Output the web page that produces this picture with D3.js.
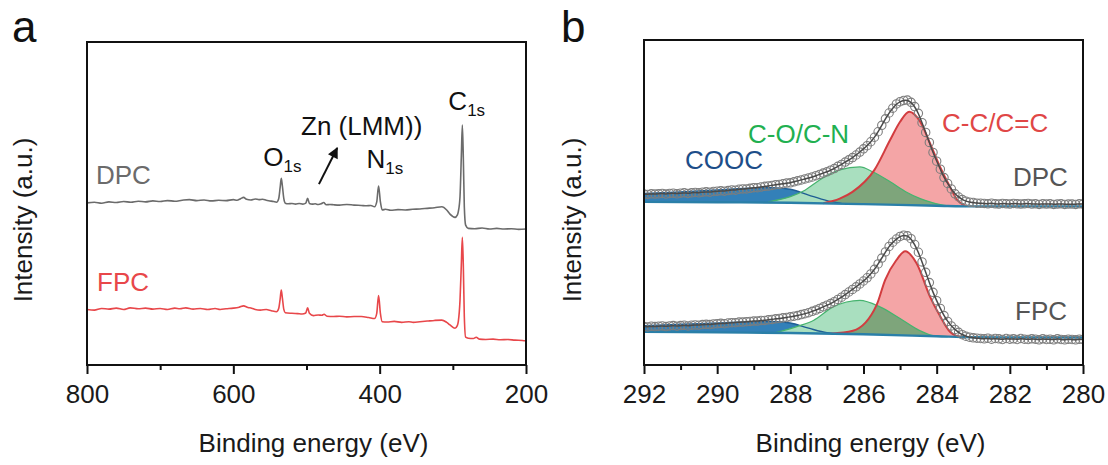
<!DOCTYPE html>
<html>
<head>
<meta charset="utf-8">
<script src="https://cdn.jsdelivr.net/npm/d3@7"></script>
<style>
  html, body { margin: 0; padding: 0; background: #fff; }
  svg { display: block; }
</style>
</head>
<body>
<svg id="chart" width="1108" height="465"></svg>
<script>
// ---------- (a) XPS survey spectra: [binding energy (eV), intensity (a.u.)] ----------
const surveyDPC = [
  [800,50.2],[790,50.4],[780,50.1],[770,50.5],[760,50.3],[750,50.6],[740,50.4],[730,50.7],
  [720,50.5],[710,50.8],[700,50.6],[690,50.9],[680,50.7],[670,51.0],[660,51.2],[650,50.9],
  [640,51.1],[630,50.8],[620,51.0],[610,50.9],[600,51.2],[595,51.0],[590,51.5],[586,51.9],
  [582,51.3],[576,51.1],[570,51.4],[565,51.2],[560,51.3],[555,51.0],[550,50.8],[545,50.6],
  [541,50.4],[538,51.5],[536,55.0],[534.5,57.8],[533,55.5],[531,51.5],[529,50.1],[525,49.9],
  [520,50.0],[515,49.8],[510,50.0],[505,49.8],[501,50.1],[498.5,51.6],[496,50.0],[492,49.8],
  [488,49.9],[484,49.7],[480,49.9],[476.5,50.3],[473,49.6],[468,49.7],[463,49.6],[455,49.5],
  [445,49.7],[435,49.5],[425,49.4],[418,49.3],[412,49.4],[407,49.0],[404,50.5],[401.5,55.4],
  [399,50.5],[396.5,48.0],[392,48.2],[385,47.9],[375,48.1],[365,48.0],[355,48.2],[345,48.3],
  [335,48.5],[325,48.7],[315,49.0],[308.4,48.0],[303.9,46.7],[297,45.7],[293.9,46.4],[292.5,47.5],
  [290.2,52.1],[288.4,64.5],[287,74.3],[285.7,64.5],[284.3,49.0],[282.5,43.3],[278.9,42.3],
  [270,42.2],[260,42.4],[250,42.1],[240,42.3],[230,42.1],[220,42.2],[210,42.0],[200,42.1]
];
const surveyFPC = [
  [800,17.2],[790,17.0],[780,17.5],[770,17.3],[760,17.6],[750,17.2],[741,17.7],[730,17.4],
  [720,17.6],[710,17.3],[700,17.5],[690,17.2],[680,17.6],[673,17.4],[665,17.7],[655,17.3],
  [645,17.5],[635,17.2],[625,17.5],[618,17.2],[610,17.4],[600,17.6],[592,17.9],[586,18.3],
  [580,17.8],[575,17.6],[570,17.2],[563,17.0],[555,17.2],[548,16.8],[541,16.5],[538,17.5],
  [536,20.5],[534.5,23.2],[533,20.8],[531,17.2],[529,16.2],[520,16.0],[512,15.9],[506,15.8],
  [501,16.1],[498.5,17.7],[496,16.0],[490.6,15.3],[484,15.5],[479,15.4],[476,15.7],[472,15.1],
  [463,15.0],[455,15.1],[445,14.9],[435,15.0],[425,15.0],[415,14.7],[407,14.4],[404,16.0],
  [401.5,21.5],[399,16.0],[396.5,13.4],[390,13.3],[380,13.5],[370,13.2],[360,13.4],[354,13.2],
  [345,13.4],[335,13.6],[325,13.8],[315,13.9],[308.4,13.2],[303.9,12.4],[297,11.4],[293.9,12.2],
  [292.5,13.5],[290.2,20.0],[288.4,31.0],[287,39.5],[285.7,31.0],[284.3,15.0],[282.5,8.6],
  [278.9,8.3],[272,8.2],[268,8.6],[264,8.0],[255,7.9],[245,8.0],[235,7.8],[225,7.9],[215,7.7],
  [205,7.6],[200,7.5]
];
const surveyTicks = [800, 600, 400, 200];
const surveyMinorTicks = [700, 500, 300];

// ---------- (b) C 1s high-resolution spectra ----------
// measured intensities, one every 0.1 eV from 292.0 eV down to 280.0 eV
const hiresStart = 292.0, hiresStep = 0.1;
const c1sDPC = [
  52.9,52.8,53.0,52.9,53.0,53.1,52.9,53.1,53.2,53.0,
  53.2,53.3,53.1,53.3,53.4,53.3,53.5,53.6,53.5,53.7,
  53.8,53.9,53.8,54.0,54.2,54.1,54.4,54.5,54.5,54.7,
  54.9,54.9,55.1,55.3,55.4,55.6,55.8,55.9,56.1,56.3,
  56.4,56.7,57.0,57.3,57.6,57.9,58.2,58.6,59.0,59.4,
  59.8,60.3,60.8,61.5,62.1,62.8,63.5,64.2,65.0,65.9,
  66.9,67.9,69.1,70.5,72.2,74.2,76.2,78.0,79.5,80.8,
  81.5,81.9,82.0,81.3,80.0,77.9,75.0,72.0,68.9,65.8,
  63.1,60.6,58.0,56.2,54.5,53.0,52.0,51.2,50.7,50.4,
  50.3,50.1,50.1,50.0,49.9,50.1,49.9,49.8,50.0,49.9,
  49.8,50.0,49.9,49.8,49.9,50.0,49.8,49.9,49.7,49.9,
  49.8,49.9,49.7,49.8,49.9,49.7,49.8,49.8,49.7,49.9,
  49.8
];
const c1sFPC = [
  11.9,11.8,12.0,11.9,12.0,12.1,11.9,12.1,12.2,12.0,
  12.2,12.3,12.1,12.3,12.4,12.3,12.5,12.6,12.5,12.7,
  12.8,12.9,12.8,13.0,13.1,13.1,13.3,13.3,13.4,13.5,
  13.6,13.6,13.8,13.8,14.0,14.1,14.3,14.4,14.6,14.7,
  14.9,15.1,15.3,15.6,15.9,16.2,16.6,17.0,17.5,18.0,
  18.5,19.0,19.6,20.3,21.0,21.8,22.6,23.4,24.2,25.1,
  26.0,27.0,28.2,29.6,31.3,33.1,35.0,36.7,38.0,39.0,
  39.8,40.2,40.0,39.1,37.3,34.9,31.9,28.7,25.5,22.5,
  19.9,17.5,15.3,13.5,12.1,11.0,10.1,9.4,8.9,8.6,
  8.4,8.3,8.2,8.1,8.3,8.0,8.2,8.1,7.9,8.2,
  8.0,8.1,7.9,8.2,8.0,7.9,8.1,8.0,7.8,8.1,
  7.9,8.0,7.8,8.1,7.9,7.8,8.0,7.9,7.8,8.0,
  7.9
];

// fitted background and components, [binding energy (eV), intensity]
const baseDPC = [[292,50.5],[290,50.4],[288,50.2],[286,49.8],[284,49.3],[283,49.1],[280,49.1]];
const coocDPC = [[292,53.1],[291,53.6],[290,54.2],[289,54.8],[288.5,54.9],[288,54.4],[287.5,52.6],[287,50.9],[286.6,50.0]];
const coDPC   = [[288.6,50.5],[288.0,52.1],[287.6,54.1],[287.2,57.3],[286.65,60.4],[286.1,61.3],[285.75,59.8],[285.27,56.7],[284.82,53.5],[284.45,51.5],[284.1,50.2],[283.7,49.25]];
const ccDPC   = [[287.1,50.1],[286.65,51.5],[286.3,53.6],[285.7,60.4],[285.27,69.7],[285.0,75.3],[284.75,78.4],[284.45,75.3],[284.18,68.6],[283.91,61.4],[283.63,55.0],[283.45,51.3],[283.2,49.15]];

const baseFPC = [[292,10.3],[290,10.1],[288,9.9],[286,9.5],[284,8.9],[283,8.6],[280,8.5]];
const coocFPC = [[292,12.2],[291,12.6],[290,13.0],[289,13.4],[288.5,13.5],[288,13.0],[287.5,11.4],[287,10.0],[286.6,9.65]];
const coFPC   = [[288.4,10.0],[287.74,12.2],[287.37,13.8],[286.83,18.0],[286.1,20.0],[285.55,18.0],[285.0,14.4],[284.45,10.6],[284.1,9.1],[283.7,8.8]];
const ccFPC   = [[286.9,9.7],[286.29,10.6],[285.64,18.6],[285.41,26.3],[285.1,32.5],[284.86,35.2],[284.55,31.5],[284.18,21.1],[283.9,15.0],[283.63,10.2],[283.45,9.0],[283.2,8.65]];

const c1sTicks = [292, 290, 288, 286, 284, 282, 280];
const c1sMinorTicks = [291, 289, 287, 285, 283, 281];

// ---------- layout ----------
const FONT = '"Liberation Sans", Arial, Helvetica, sans-serif';
const boxA = { left: 87, right: 526, top: 42, bottom: 365 };
const boxB = { left: 644, right: 1083, top: 40, bottom: 365 };

const svg = d3.select('#chart').attr('font-family', FONT);
const defs = svg.append('defs');

const xA = d3.scaleLinear().domain([800, 200]).range([boxA.left, boxA.right]);
const yA = d3.scaleLinear().domain([0, 100]).range([boxA.bottom, boxA.top]);
const xB = d3.scaleLinear().domain([292, 280]).range([boxB.left, boxB.right]);
const yB = d3.scaleLinear().domain([0, 100.6]).range([boxB.bottom, boxB.top]);

function addClip(id, box) {
  defs.append('clipPath').attr('id', id)
    .append('rect')
    .attr('x', box.left).attr('y', box.top)
    .attr('width', box.right - box.left).attr('height', box.bottom - box.top);
}
addClip('clipA', boxA);
addClip('clipB', boxB);

function drawAxes(x, box, major, minor, yTitleX) {
  const g = svg.append('g');
  const big = g.append('g').attr('transform', `translate(0,${box.bottom})`)
    .call(d3.axisBottom(x).tickValues(major).tickSize(9).tickPadding(11).tickFormat(d3.format('d')));
  const small = g.append('g').attr('transform', `translate(0,${box.bottom})`)
    .call(d3.axisBottom(x).tickValues(minor).tickSize(5).tickFormat(''));
  [big, small].forEach(s => {
    s.select('.domain').remove();
    s.selectAll('line').attr('stroke', '#111').attr('stroke-width', 2);
    s.selectAll('text').attr('font-size', 26).attr('font-family', FONT).attr('fill', '#1a1a1a');
  });
  // frame
  g.append('rect')
    .attr('x', box.left).attr('y', box.top)
    .attr('width', box.right - box.left).attr('height', box.bottom - box.top)
    .attr('fill', 'none').attr('stroke', '#111').attr('stroke-width', 2);
  // axis titles
  g.append('text')
    .attr('x', (box.left + box.right) / 2 + 7).attr('y', 452)
    .attr('text-anchor', 'middle').attr('font-size', 26).attr('fill', '#1a1a1a')
    .text('Binding energy (eV)');
  g.append('text')
    .attr('transform', `translate(${yTitleX},220) rotate(-90)`)
    .attr('text-anchor', 'middle').attr('font-size', 26).attr('fill', '#1a1a1a')
    .text('Intensity (a.u.)');
}

// ---------- panel a ----------
const line = d3.line().x(d => xA(d[0])).y(d => yA(d[1])).curve(d3.curveMonotoneX);
const gA = svg.append('g').attr('clip-path', 'url(#clipA)');
gA.append('path').attr('d', line(surveyDPC))
  .attr('fill', 'none').attr('stroke', '#6b6b6b').attr('stroke-width', 1.6);
gA.append('path').attr('d', line(surveyFPC))
  .attr('fill', 'none').attr('stroke', '#e8474a').attr('stroke-width', 1.6);

drawAxes(xA, boxA, surveyTicks, surveyMinorTicks, 32);

svg.append('text').attr('x', 12).attr('y', 42).attr('font-size', 44).attr('fill', '#111').text('a');

svg.append('text').attr('x', boxA.left + 9).attr('y', 184)
  .attr('font-size', 26).attr('fill', '#6b6b6b').text('DPC');
svg.append('text').attr('x', boxA.left + 10).attr('y', 291)
  .attr('font-size', 26).attr('fill', '#e8474a').text('FPC');

function peakLabel(sym, sub, x, y) {
  const t = svg.append('text').attr('x', x).attr('y', y).attr('font-size', 26).attr('fill', '#111');
  t.append('tspan').text(sym);
  t.append('tspan').attr('font-size', 17).attr('dy', 6).text(sub);
  return t;
}
peakLabel('O', '1s', xA(534.5) - 18, 166);
peakLabel('N', '1s', xA(401.5) - 12, 168);
peakLabel('C', '1s', xA(287) - 14, 110);
svg.append('text').attr('x', 301).attr('y', 135)
  .attr('font-size', 26).attr('fill', '#111').text('Zn (LMM))');

// arrow pointing at the Zn LMM region
defs.append('marker').attr('id', 'arrowHead')
  .attr('viewBox', '0 0 10 10').attr('refX', 9).attr('refY', 5)
  .attr('markerUnits', 'userSpaceOnUse').attr('markerWidth', 12).attr('markerHeight', 11)
  .attr('orient', 'auto')
  .append('path').attr('d', 'M0,0 L10,5 L0,10 Z').attr('fill', '#111');
svg.append('line')
  .attr('x1', xA(483)).attr('y1', yA(56.0))
  .attr('x2', xA(458)).attr('y2', yA(67.2))
  .attr('stroke', '#111').attr('stroke-width', 2)
  .attr('marker-end', 'url(#arrowHead)');

// ---------- panel b ----------
const gB = svg.append('g').attr('clip-path', 'url(#clipB)');

function drawC1s(values, base, cooc, co, cc, tag) {
  const baseAt = d3.scaleLinear().domain(base.map(d => d[0])).range(base.map(d => d[1]));
  const area = d3.area()
    .x(d => xB(d[0])).y0(d => yB(baseAt(d[0]))).y1(d => yB(d[1]))
    .curve(d3.curveMonotoneX);
  const top = d3.line().x(d => xB(d[0])).y(d => yB(d[1])).curve(d3.curveMonotoneX);

  gB.append('path').attr('d', area(cooc)).attr('fill', '#3380b8');
  gB.append('path').attr('d', area(cc)).attr('fill', '#f4a5a6');
  gB.append('path').attr('d', area(co)).attr('fill', '#a9dfbf');

  // where C-O/C-N and C-C/C=C overlap
  defs.append('clipPath').attr('id', 'cc-' + tag).append('path').attr('d', area(cc));
  gB.append('path').attr('d', area(co)).attr('fill', '#7ea57b')
    .attr('clip-path', `url(#cc-${tag})`);

  gB.append('path').attr('d', top(cooc)).attr('fill', 'none').attr('stroke', '#1f5e94').attr('stroke-width', 1.4);
  gB.append('path').attr('d', top(co)).attr('fill', 'none').attr('stroke', '#46b36e').attr('stroke-width', 1.2);
  gB.append('path').attr('d', top(cc)).attr('fill', 'none').attr('stroke', '#d23c3f').attr('stroke-width', 2);
  gB.append('path').attr('d', top(base)).attr('fill', 'none').attr('stroke', '#2a7fa8').attr('stroke-width', 2.4);

  const pts = values.map((v, i) => [hiresStart - i * hiresStep, v]);
  gB.append('g').selectAll('circle').data(pts).join('circle')
    .attr('cx', d => xB(d[0])).attr('cy', d => yB(d[1])).attr('r', 4.2)
    .attr('fill', 'none').attr('stroke', '#7d7d7d').attr('stroke-width', 1.1);
  gB.append('path')
    .attr('d', d3.line().x(d => xB(d[0])).y(d => yB(d[1])).curve(d3.curveBasis)(pts))
    .attr('fill', 'none').attr('stroke', '#4a4a4a').attr('stroke-width', 1.5);
}
drawC1s(c1sDPC, baseDPC, coocDPC, coDPC, ccDPC, 'dpc');
drawC1s(c1sFPC, baseFPC, coocFPC, coFPC, ccFPC, 'fpc');

drawAxes(xB, boxB, c1sTicks, c1sMinorTicks, 581);

svg.append('text').attr('x', 561).attr('y', 42).attr('font-size', 44).attr('fill', '#111').text('b');

svg.append('text').attr('x', 685).attr('y', 169).attr('font-size', 26).attr('fill', '#1d4e89').text('COOC');
svg.append('text').attr('x', 748).attr('y', 143).attr('font-size', 26).attr('fill', '#21b050').text('C-O/C-N');
svg.append('text').attr('x', 942).attr('y', 132).attr('font-size', 26).attr('fill', '#e04646').text('C-C/C=C');
svg.append('text').attr('x', 1013).attr('y', 186).attr('font-size', 26).attr('fill', '#555').text('DPC');
svg.append('text').attr('x', 1015).attr('y', 320).attr('font-size', 26).attr('fill', '#555').text('FPC');
</script>
</body>
</html>
